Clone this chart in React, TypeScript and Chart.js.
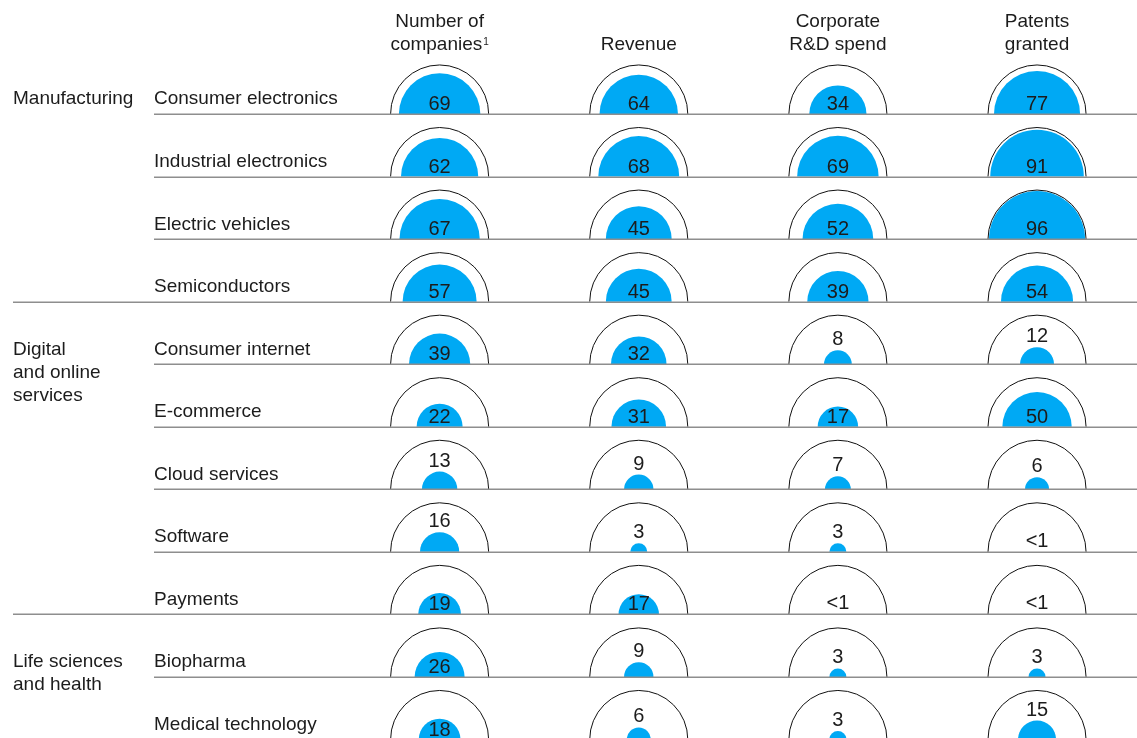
import React, { useEffect, useRef } from "react";
import { Chart, registerables } from "chart.js";

Chart.register(...registerables);

// ---- data ----
const categories = [
  "Consumer electronics",
  "Industrial electronics",
  "Electric vehicles",
  "Semiconductors",
  "Consumer internet",
  "E-commerce",
  "Cloud services",
  "Software",
  "Payments",
  "Biopharma",
  "Medical technology",
];
const groupLabels = [["Manufacturing"], ["Digital", "and online", "services"], ["Life sciences", "and health"]];
const groupStartRows = [0, 4, 9];
const groupEndRows = [3, 8, 10];
const headers = [["Number of", "companies"], ["Revenue"], ["Corporate", "R&D spend"], ["Patents", "granted"]];
const companies = [69, 62, 67, 57, 39, 22, 13, 16, 19, 26, 18];
const revenue = [64, 68, 45, 45, 32, 31, 9, 3, 17, 9, 6];
const rdSpend = [34, 69, 52, 39, 8, 17, 7, 3, 0.5, 3, 3];
const patents = [77, 91, 96, 54, 12, 50, 6, 0.5, 0.5, 3, 15];
const series = [companies, revenue, rdSpend, patents];

const BLUE = "#00a9f4";
const INK = "#1c1c1c";
const FONT = '"Liberation Sans", Arial, sans-serif';

const fmt = (v: number) => (v < 1 ? "<1" : String(v));

const semicirclePlugin = {
  id: "semicircles",
  afterDatasetsDraw(chart: any) {
    const ctx = chart.ctx as CanvasRenderingContext2D;
    const ys = chart.scales.y;
    const xs = chart.scales.x;
    const rowGap = Math.abs(ys.getPixelForValue(1) - ys.getPixelForValue(0));
    const R = rowGap * 0.784;
    const right = chart.width;
    ctx.save();

    chart.data.datasets.forEach((ds: any, d: number) => {
      const meta = chart.getDatasetMeta(d);
      meta.data.forEach((el: any, i: number) => {
        const v = ds.data[i].v as number;
        const cx = el.x;
        const cy = el.y;
        const r = v >= 1 ? R * Math.sqrt(v / 100) : 0;
        if (r > 0) {
          ctx.beginPath();
          ctx.moveTo(cx - r, cy);
          ctx.arc(cx, cy, r, Math.PI, 2 * Math.PI);
          ctx.closePath();
          ctx.fillStyle = BLUE;
          ctx.fill();
        }
        ctx.beginPath();
        ctx.arc(cx, cy, R, Math.PI, 2 * Math.PI);
        ctx.lineWidth = 1;
        ctx.strokeStyle = "#111";
        ctx.stroke();

        ctx.font = "20px " + FONT;
        ctx.fillStyle = INK;
        ctx.textAlign = "center";
        ctx.textBaseline = "alphabetic";
        const inside = v >= 17;
        const base = inside ? cy - 4 : cy - r - 5;
        ctx.fillText(fmt(v), cx, base);
      });
    });

    // row lines
    const rows = categories.length;
    for (let i = 0; i < rows; i++) {
      const y = Math.round(ys.getPixelForValue(i)) + 0.25;
      const isSectionEnd = groupEndRows.includes(i) && i !== rows - 1;
      ctx.beginPath();
      ctx.moveTo(isSectionEnd ? 13 : 154, y);
      ctx.lineTo(right, y);
      ctx.lineWidth = 1.5;
      ctx.strokeStyle = "#8e8e8e";
      ctx.stroke();
    }

    // row labels
    ctx.font = "19px " + FONT;
    ctx.fillStyle = INK;
    ctx.textAlign = "left";
    ctx.textBaseline = "alphabetic";
    categories.forEach((c, i) => {
      const y = ys.getPixelForValue(i) - 9.5;
      ctx.fillText(c, 154, y);
    });
    groupLabels.forEach((lines, g) => {
      const y0 = ys.getPixelForValue(groupStartRows[g]) - 9.5;
      lines.forEach((t, k) => ctx.fillText(t, 13, y0 + k * 23));
    });

    // headers
    ctx.textAlign = "left";
    headers.forEach((lines, c) => {
      const cx = xs.getPixelForValue(c);
      const n = lines.length;
      lines.forEach((t, k) => {
        const base = 50 - (n - 1 - k) * 23;
        ctx.font = "19px " + FONT;
        const w = ctx.measureText(t).width;
        const sup = c === 0 && k === n - 1;
        let supW = 0;
        if (sup) {
          ctx.font = "10px " + FONT;
          supW = ctx.measureText("1").width + 1;
          ctx.font = "19px " + FONT;
        }
        const x0 = cx - (w + supW) / 2;
        ctx.fillText(t, x0, base);
        if (sup) {
          ctx.font = "10px " + FONT;
          ctx.fillText("1", x0 + w + 1, base - 5);
        }
      });
    });
    ctx.restore();
  },
};

export default function App() {
  const ref = useRef<HTMLCanvasElement | null>(null);
  useEffect(() => {
    document.body.style.margin = "0";
    const canvas = ref.current;
    if (!canvas) return;
    const chart = new Chart(canvas, {
      type: "scatter",
      data: {
        datasets: series.map((vals, c) => ({
          label: headers[c].join(" "),
          data: vals.map((v, i) => ({ x: c, y: i, v })),
          pointRadius: 0,
          pointHoverRadius: 0,
          backgroundColor: BLUE,
        })),
      } as any,
      options: {
        animation: false,
        responsive: true,
        maintainAspectRatio: false,
        events: [],
        layout: { padding: 0 },
        plugins: { legend: { display: false }, tooltip: { enabled: false } },
        scales: {
          x: { type: "linear", display: false, min: -2.2076, max: 3.502 },
          y: { type: "linear", display: false, reverse: true, min: -1.8225, max: 9.976 },
        },
      },
      plugins: [semicirclePlugin],
    });
    return () => chart.destroy();
  }, []);
  return (
    <div style={{ position: "absolute", left: 0, top: 0, width: 1137, height: 738, background: "#fff" }}>
      <canvas ref={ref} />
    </div>
  );
}
